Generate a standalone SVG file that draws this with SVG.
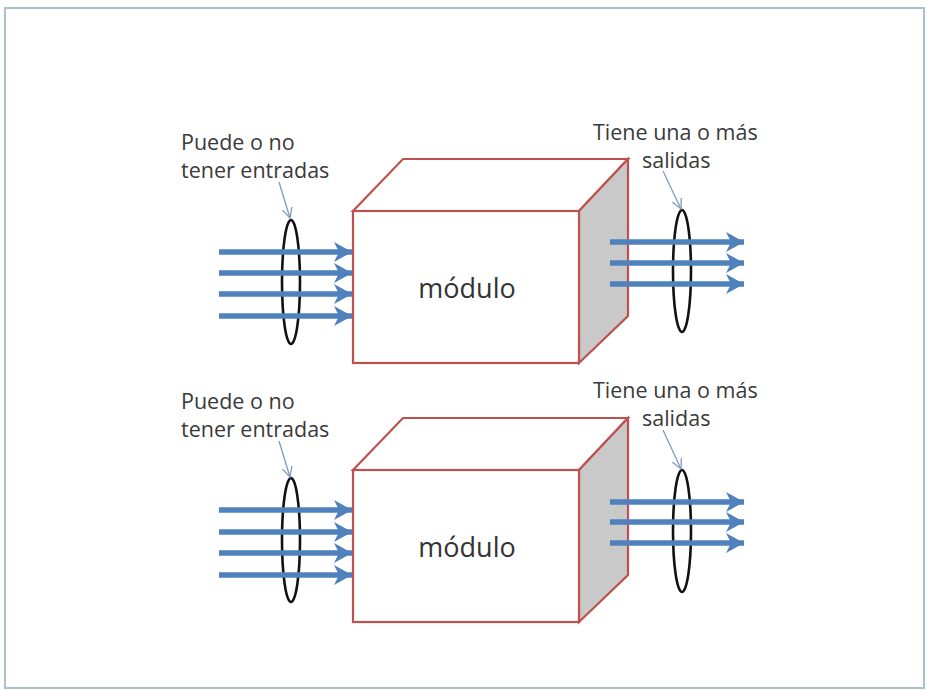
<svg xmlns="http://www.w3.org/2000/svg" width="927" height="691" viewBox="0 0 927 691">
<defs>
<style>
.frame{fill:#ffffff;stroke:#a9c2cf;stroke-width:2}
.face{fill:#ffffff;stroke:#c0504d;stroke-width:2.2;stroke-linejoin:miter}
.side{fill:#c9c9c9;stroke:#c0504d;stroke-width:2.2}
.flow{stroke:#4f81bd;stroke-width:5.5;fill:none}
.ring{fill:none;stroke:#111111;stroke-width:2.6}
.callout{stroke:#7f9cc0;stroke-width:1.3;fill:none}
.lbl{font-family:"Open Sans","Liberation Sans",sans-serif;font-size:21.5px;fill:#3a3a3a}
.mod{font-family:"Open Sans","Liberation Sans",sans-serif;font-size:27px;fill:#333333}
</style>
<marker id="head" markerUnits="userSpaceOnUse" markerWidth="20" markerHeight="22" refX="18" refY="11" orient="auto">
<path d="M0,1 L18,11 L0,21 L5,11 Z" fill="#4f81bd"/>
</marker>
<marker id="thin" markerUnits="userSpaceOnUse" markerWidth="12" markerHeight="12" refX="10" refY="6" orient="auto">
<path d="M0,1 L10,6 L0,11" fill="none" stroke="#7f9cc0" stroke-width="1.3"/>
</marker>
</defs>
<rect class="frame" x="5" y="8" width="919" height="680"/>

<g id="module-top">
<polygon class="face" points="353,211 403,159 628,159 579,211"/>
<polygon class="side" points="579,211 628,159 628,316 579,363"/>
<rect class="face" x="353" y="211" width="226" height="152"/>
<text class="mod" x="467" y="298" text-anchor="middle">módulo</text>
</g>
<g id="inputs-top">
<ellipse class="ring" cx="291" cy="282" rx="9" ry="62"/>
<text class="lbl" x="181" y="150">Puede o no</text>
<text class="lbl" x="181" y="178">tener entradas</text>
</g>
<g id="outputs-top">
<ellipse class="ring" cx="682" cy="271" rx="9" ry="61"/>
<text class="lbl" x="593" y="140">Tiene una o más</text>
<text class="lbl" x="642" y="168">salidas</text>
</g>

<g id="module-bottom">
<polygon class="face" points="353,470 403,418 628,418 579,470"/>
<polygon class="side" points="579,470 628,418 628,575 579,622"/>
<rect class="face" x="353" y="470" width="226" height="152"/>
<text class="mod" x="467" y="557" text-anchor="middle">módulo</text>
</g>
<g id="inputs-bottom">
<ellipse class="ring" cx="291" cy="540" rx="9" ry="62"/>
<text class="lbl" x="181" y="409">Puede o no</text>
<text class="lbl" x="181" y="437">tener entradas</text>
</g>
<g id="outputs-bottom">
<ellipse class="ring" cx="682" cy="531" rx="9" ry="61"/>
<text class="lbl" x="593" y="398">Tiene una o más</text>
<text class="lbl" x="642" y="426">salidas</text>
</g>

<g id="connectors">
<line class="flow" x1="219" y1="252" x2="352" y2="252" marker-end="url(#head)"/>
<line class="flow" x1="219" y1="273" x2="352" y2="273" marker-end="url(#head)"/>
<line class="flow" x1="219" y1="294" x2="352" y2="294" marker-end="url(#head)"/>
<line class="flow" x1="219" y1="316" x2="352" y2="316" marker-end="url(#head)"/>
<line class="flow" x1="610" y1="242" x2="744" y2="242" marker-end="url(#head)"/>
<line class="flow" x1="610" y1="263" x2="744" y2="263" marker-end="url(#head)"/>
<line class="flow" x1="610" y1="284" x2="744" y2="284" marker-end="url(#head)"/>
<line class="callout" x1="279" y1="182" x2="290" y2="218" marker-end="url(#thin)"/>
<line class="callout" x1="663" y1="171" x2="681" y2="209" marker-end="url(#thin)"/>

<line class="flow" x1="219" y1="510" x2="352" y2="510" marker-end="url(#head)"/>
<line class="flow" x1="219" y1="532" x2="352" y2="532" marker-end="url(#head)"/>
<line class="flow" x1="219" y1="553" x2="352" y2="553" marker-end="url(#head)"/>
<line class="flow" x1="219" y1="575" x2="352" y2="575" marker-end="url(#head)"/>
<line class="flow" x1="610" y1="502" x2="744" y2="502" marker-end="url(#head)"/>
<line class="flow" x1="610" y1="522" x2="744" y2="522" marker-end="url(#head)"/>
<line class="flow" x1="610" y1="543" x2="744" y2="543" marker-end="url(#head)"/>
<line class="callout" x1="279" y1="441" x2="290" y2="477" marker-end="url(#thin)"/>
<line class="callout" x1="663" y1="430" x2="681" y2="469" marker-end="url(#thin)"/>
</g>
</svg>
